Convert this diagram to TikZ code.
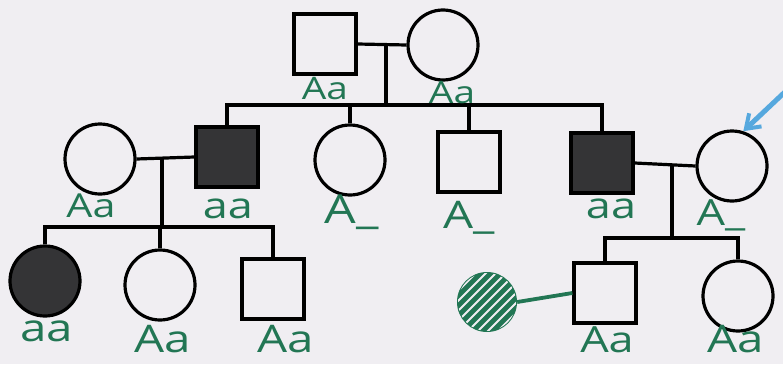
\documentclass[tikz,border=0pt]{standalone}
\usepackage{fontspec}
\newfontfamily\hand[FakeStretch=1.25]{Open Sans}
\usetikzlibrary{arrows.meta}
\definecolor{paper}{RGB}{240,238,242}
\definecolor{penGreen}{RGB}{34,118,84}
\definecolor{darkfill}{RGB}{52,52,54}
\definecolor{penBlue}{RGB}{86,168,222}
\tikzset{
  ln/.style={line width=3.2pt, black},
  male/.style={draw=black, line width=3.2pt, fill=paper, minimum width=62pt, minimum height=60pt, inner sep=0, shape=rectangle},
  female/.style={draw=black, line width=3.2pt, fill=paper, minimum size=70pt, inner sep=0, shape=circle},
  affected/.style={fill=darkfill},
  lab/.style={text=penGreen, font=\hand\fontsize{#1}{#1}\selectfont, inner sep=0}
}
\begin{document}
\begin{tikzpicture}[x=1pt,y=-1pt]
\useasboundingbox (0,0) rectangle (783,364);
\fill[paper] (0,0) rectangle (783,364);

% Generation I
\node[male]   (P1) at (325,44) {};
\node[female] (P2) at (443,45) {};
% Generation II
\node[female]          (W1) at (100,159) {};
\node[male,affected]   (H1) at (227,157) {};
\node[female]          (C3) at (350,160) {};
\node[male]            (C4) at (469,162) {};
\node[male,affected]   (C5) at (602,163) {};
\node[female]          (W2) at (732,166) {};
% Generation III left
\node[female,affected] (D1) at (45,281) {};
\node[female]          (D2) at (160,285) {};
\node[male]            (D3) at (273,289) {};
% Generation III right
\node[male]            (E1) at (605,293) {};
\node[female]          (E2) at (738,296) {};
\node[circle, minimum size=60pt, inner sep=0, fill=penGreen] (G) at (487,302) {};
\begin{scope}
  \clip (G.center) circle (29pt);
  \foreach \k in {-60,-50,...,60}
    \draw[paper, line width=1.8pt] (487+\k-40,342) -- (487+\k+40,262);
\end{scope}

% marriages and descents
\coordinate (m1) at (386,45);
\coordinate (s1) at (386,105);
\draw[ln] (P1.east) -- (P2.west);
\draw[ln] (m1) -- (s1);
\draw[ln] (H1.north) |- (s1) -| (C5.north);
\draw[ln] (C3.north) -- (C3.north |- s1);
\draw[ln] (C4.north) -- (C4.north |- s1);

\coordinate (m2) at (162,158);
\coordinate (s2) at (162,227);
\draw[ln] (W1.east) -- (H1.west);
\draw[ln] (m2) -- (s2);
\draw[ln] (D1.north) |- (s2) -| (D3.north);
\draw[ln] (D2.north) -- (D2.north |- s2);

\coordinate (m3) at (672,165);
\coordinate (s3) at (672,238);
\draw[ln] (C5.east) -- (W2.west);
\draw[ln] (m3) -- (s3);
\draw[ln] (E1.north) |- (s3) -| (E2.north);

\draw[penGreen, line width=3.8pt] (G.east) -- (E1.west);

% proband arrow
\coordinate (tail) at (787,90);
\draw[penBlue, line width=5pt, -{Straight Barb[length=13pt,width=18pt,line width=4pt]}] (tail) -- (W2.72);

% genotype labels
\node[lab=31] (LP1) at (325,89) {Aa};
\node[lab=31] (LP2) at (452,93) {Aa};
\node[lab=33] (LW1) at (91,206) {Aa};
\node[lab=36] (LH1) at (228,209) {aa};
\node[lab=40] (LC3) at (352,212) {A\textunderscore};
\node[lab=38] (LC4) at (469,218) {A\textunderscore};
\node[lab=36] (LC5) at (611,209) {aa};
\node[lab=36] (LW2) at (721,215) {A\textunderscore};
\node[lab=38] (LD1) at (47,331) {aa};
\node[lab=38] (LD2) at (163,339) {Aa};
\node[lab=38] (LD3) at (286,339) {Aa};
\node[lab=36] (LE1) at (607,340) {Aa};
\node[lab=38] (LE2) at (736,339) {Aa};
\end{tikzpicture}
\end{document}
